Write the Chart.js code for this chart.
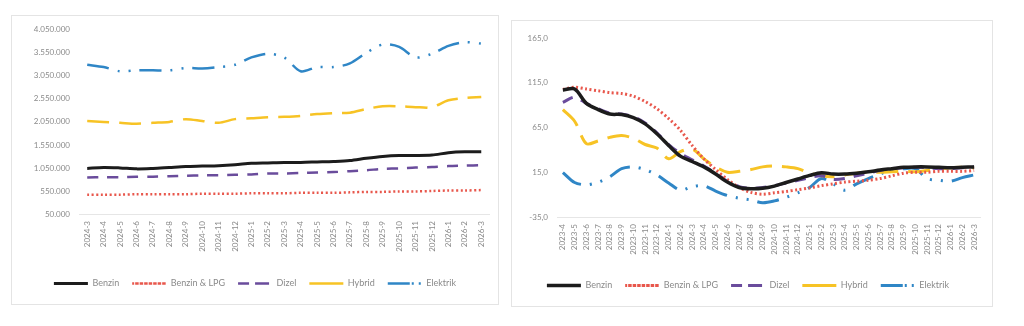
<!DOCTYPE html>
<html>
<head>
<meta charset="utf-8">
<script src="https://cdn.jsdelivr.net/npm/chart.js@4.4.1/dist/chart.umd.min.js"></script>
<style>
  body { margin: 0; background: #fff; width: 1024px; height: 326px; overflow: hidden; position: relative; }
  .box { position: absolute; border: 1px solid #e4e4e4; background: #fff; }
  #box1 { left: 11px; top: 15px; width: 486px; height: 288px; }
  #box2 { left: 511px; top: 20px; width: 480px; height: 285px; }
  canvas { display: block; }
</style>
</head>
<body>
<div class="box" id="box1"><canvas id="leftChart" width="486" height="288"></canvas></div>
<div class="box" id="box2"><canvas id="rightChart" width="480" height="285"></canvas></div>
<script>
// Sol grafik: adet (2024-3 .. 2026-3)
const monthsLeft = ["2024-3", "2024-4", "2024-5", "2024-6", "2024-7", "2024-8", "2024-9", "2024-10", "2024-11", "2024-12",
  "2025-1", "2025-2", "2025-3", "2025-4", "2025-5", "2025-6", "2025-7", "2025-8", "2025-9", "2025-10", "2025-11", "2025-12",
  "2026-1", "2026-2", "2026-3"];
const benzinLeft = [1040000, 1060000, 1050000, 1030000, 1040000, 1060000, 1080000, 1090000, 1100000, 1120000, 1150000, 1160000,
  1170000, 1170000, 1180000, 1190000, 1210000, 1260000, 1300000, 1320000, 1320000, 1330000, 1380000, 1400000, 1400000];
const lpgLeft = [470000, 470000, 470000, 480000, 480000, 480000, 480000, 490000, 490000, 490000, 500000, 500000, 500000,
  510000, 510000, 510000, 520000, 530000, 530000, 540000, 540000, 550000, 560000, 560000, 570000];
const dizelLeft = [840000, 850000, 850000, 860000, 860000, 870000, 880000, 890000, 890000, 900000, 910000, 930000, 930000,
  940000, 950000, 960000, 980000, 1000000, 1030000, 1040000, 1060000, 1070000, 1090000, 1100000, 1110000];
const hybridLeft = [2070000, 2050000, 2030000, 2010000, 2030000, 2050000, 2110000, 2070000, 2030000, 2110000, 2130000, 2150000,
  2160000, 2180000, 2220000, 2240000, 2250000, 2330000, 2390000, 2390000, 2370000, 2370000, 2520000, 2570000, 2590000];
const elektrikLeft = [3290000, 3240000, 3150000, 3170000, 3170000, 3170000, 3220000, 3210000, 3240000, 3290000, 3450000, 3530000,
  3450000, 3150000, 3240000, 3240000, 3320000, 3550000, 3730000, 3680000, 3450000, 3530000, 3700000, 3780000, 3750000];
const leftTicks = { min: 50000, max: 4050000, step: 500000 };

// Sağ grafik: yıllık değişim % (2023-4 .. 2026-3)
const monthsRight = ["2023-4", "2023-5", "2023-6", "2023-7", "2023-8", "2023-9", "2023-10", "2023-11", "2023-12",
  "2024-1", "2024-2", "2024-3", "2024-4", "2024-5", "2024-6", "2024-7", "2024-8", "2024-9", "2024-10", "2024-11", "2024-12",
  "2025-1", "2025-2", "2025-3", "2025-4", "2025-5", "2025-6", "2025-7", "2025-8", "2025-9", "2025-10", "2025-11", "2025-12",
  "2026-1", "2026-2", "2026-3"];
const benzinRight = [107, 108, 92, 85, 80, 79.5, 76, 69, 58, 45, 33, 27, 21, 13, 4, -2, -3.5, -3, -0.5, 3.5, 7.5, 11.5, 14.5,
  13, 13, 14, 15.5, 17.5, 19, 20.5, 21, 21, 20.5, 20, 20.5, 21];
const lpgRight = [107.5, 110, 108, 106, 104, 103, 100, 94, 86, 75, 62, 45, 30, 18, 7, -2, -7.5, -9.5, -8, -6.5, -4.5, -2.5, 0,
  2, 4, 5, 6, 8, 11, 14, 15, 15, 16, 16, 16, 17];
const dizelRight = [93, 99, 92, 86, 81, 80, 77, 70, 59, 46, 36, 29, 22, 14, 5, -1, -3, -2, 0, 3, 6, 9, 11, 7, 8, 11, 14, 17,
  19, 20, 20.5, 20, 19, 19, 20, 21];
const hybridRight = [85, 72, 47, 50, 54, 56, 53, 46, 42, 30, 38, 41, 30, 21, 15, 16, 18, 21, 22, 21, 19, 14, 11, 10, 12, 14,
  15, 15, 15.5, 16, 15.5, 17, 19, 20, 20.5, 20];
const elektrikRight = [14.6, 3.5, 1, 4, 10, 19, 21, 18, 12, 3, -5, -1, 0, -6, -11, -14, -16, -19, -17, -13, -8, -2, 8, 2, -5,
  2, 8, 13, 18, 19, 19, 8, 6, 5, 9, 12];
const rightTicks = { min: -35, max: 165, step: 50 };

const seriesNames = ["Benzin", "Benzin & LPG", "Dizel", "Hybrid", "Elektrik"];
const seriesColors = ["#1c1c1c", "#e8574c", "#6a4c9c", "#f7c325", "#2f86c6"];
const seriesDash = [[], [2, 2.5], [11, 9], [22, 10], [22, 9, 2, 9, 2, 9]];

const tickColor = "#8a8a8a";
const fontFamily = "Lato, 'Open Sans', sans-serif";

const makeDatasets = (seriesData, width) =>
  seriesData.map((values, i) => ({
    label: seriesNames[i],
    data: values,
    borderColor: seriesColors[i],
    backgroundColor: seriesColors[i],
    borderWidth: i === 0 ? width + 0.5 : width,
    borderDash: seriesDash[i],
    pointRadius: 0,
    tension: 0.3,
    fill: false,
  }));

const formatTick = (value, decimals) =>
  value.toLocaleString("de-DE", { minimumFractionDigits: decimals, maximumFractionDigits: decimals });

const makeChart = (canvasId, labels, datasets, ticks, decimals, yWidth, xHeight, xPad, padding) =>
  new Chart(document.getElementById(canvasId), {
    type: "line",
    data: { labels, datasets },
    options: {
      responsive: false,
      animation: false,
      layout: { padding },
      plugins: {
        tooltip: { enabled: false },
        legend: {
          position: "bottom",
          labels: {
            color: tickColor,
            font: { family: fontFamily, size: 9 },
            boxWidth: 34,
            boxHeight: 0,
            padding: 13,
          },
        },
      },
      scales: {
        x: {
          offset: true,
          grid: { display: false, drawTicks: false },
          border: { display: true, color: "#e6e6e6" },
          ticks: {
            autoSkip: false,
            maxRotation: 90,
            minRotation: 90,
            padding: xPad,
            color: tickColor,
            font: { family: fontFamily, size: 8 },
          },
          afterFit: (s) => { s.height = xHeight; },
        },
        y: {
          min: ticks.min,
          max: ticks.max,
          grid: { display: false, drawTicks: false },
          border: { display: false },
          ticks: {
            stepSize: ticks.step,
            padding: 9,
            color: tickColor,
            font: { family: fontFamily, size: 8 },
            callback: (v) => formatTick(v, decimals),
          },
          afterFit: (s) => { s.width = yWidth; },
        },
      },
    },
  });

makeChart("leftChart", monthsLeft,
  makeDatasets([benzinLeft, lpgLeft, dizelLeft, hybridLeft, elektrikLeft], 2.5),
  leftTicks, 0, 60, 52, 7, { left: 7, right: 7, top: 12, bottom: 6 });

makeChart("rightChart", monthsRight,
  makeDatasets([benzinRight, lpgRight, dizelRight, hybridRight, elektrikRight], 3),
  rightTicks, 1, 41, 51, 7, { left: 4, right: 12, top: 17, bottom: 6 });
</script>
</body>
</html>
